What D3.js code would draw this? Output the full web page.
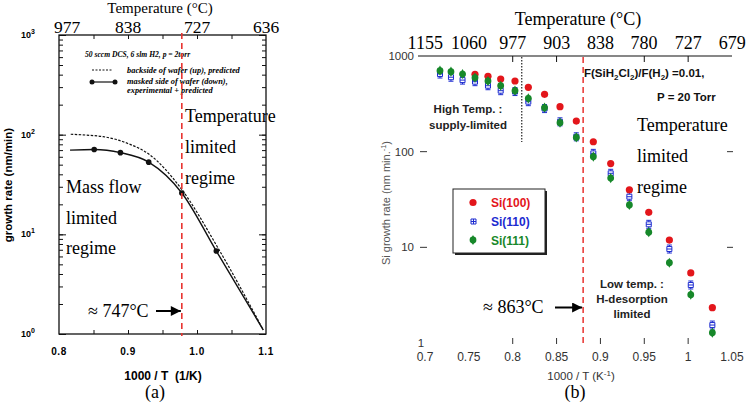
<!DOCTYPE html>
<html>
<head>
<meta charset="utf-8">
<script src="https://cdn.jsdelivr.net/npm/d3@7/dist/d3.min.js"></script>
<style>
body { margin: 0; background: #fff; }
</style>
</head>
<body>
<svg id="canvas"></svg>
<script>
var w = 747;
var h = 404;
var serif = '"Liberation Serif", "Times New Roman", serif'
var sans = '"Liberation Sans", Arial, sans-serif'

// ---- panel (a) data ----
var tempTicksA = [977, 838, 727, 636]
var invTLabelsA = [0.8, 0.9, 1.0, 1.1]
var decadesA = [0, 1, 2, 3]
var solidInvT = [0.816, 0.851, 0.889, 0.930, 0.978, 1.028, 1.096]
var solidRate = [70, 71, 66, 53, 26, 6.8, 1.1]
var markInvT = [0.851, 0.889, 0.930, 0.978, 1.028]
var markRate = [71, 66, 53, 26, 6.8]
var dashInvT = [0.817, 0.840, 0.864, 0.899, 0.932, 0.975, 1.033, 1.096]
var dashRate = [101, 99, 95.5, 82, 62.5, 30, 6.8, 1.1]
var transitionA = 0.978

// ---- panel (b) data ----
var tempTicksB = [1155, 1060, 977, 903, 838, 780, 727, 679]
var invTLabelsB = [0.7, 0.75, 0.8, 0.85, 0.9, 0.95, 1, 1.05]
var rateLabelsB = [1000, 100, 10, 1]
var invT = [0.7171, 0.7296, 0.7428, 0.757, 0.7718, 0.7863, 0.8026, 0.8178, 0.8363,
            0.8539, 0.8725, 0.8919, 0.9117, 0.933, 0.9551, 0.9786, 1.003, 1.0276]
var si100 = [null, null, null, 644, 613, 575, 548, 471, 398, 295, 209, 127, 75, 40, 23.2, 11.9, 5.4, 2.34]
var si110 = [648, 600, 560, 539, 489, 434, 425, 333, 282, 205, 143, 96, 59.4, 33.8, 17.4, 9.6, 4.04, 1.54]
var si111 = [702, 685, 648, 593, 548, 489, 434, 361, 288, 201, 141, 88.6, 53, 27.7, 14.4, 6.9, 3.2, 1.28]
var seriesNames = ['Si(100)', 'Si(110)', 'Si(111)']
var seriesColours = ['#e3161b', '#1c2bd0', '#17882a']
var transitionB = 1000 / (863 + 273)
var supplyLimitB = 0.8103

var xA = d3.scaleLinear().domain([0.8, 1.1]).range([59, 266])
var yA = d3.scaleLog().domain([1, 1000]).range([334, 35])
var xB = d3.scaleLinear().domain([0.7, 1.05]).range([425, 732])
var yB = d3.scaleLog().domain([1, 1000]).range([343, 56])

var svg = d3.select('#canvas')
  .attr('width', w)
  .attr('height', h)
  .attr('viewBox', [0, 0, w, h])
  .style('font-family', sans)

var defs = svg.append('defs')
defs.append('marker')
  .attr('id', 'arrow')
  .attr('viewBox', '0 0 10 10')
  .attr('refX', 10).attr('refY', 5)
  .attr('markerWidth', 13).attr('markerHeight', 10)
  .attr('markerUnits', 'userSpaceOnUse')
  .attr('orient', 'auto')
  .append('path').attr('d', 'M0,0L10,5L0,10Z').attr('fill', '#000')

function zip(a, b){
  return a.map((d, i) => [d, b[i]]).filter(d => d[1] != null)
}

function serifText(g, x, y, t, size){
  return g.append('text').attr('x', x).attr('y', y)
    .style('font-family', serif).style('font-size', (size || 18) + 'px')
    .text(t)
}

// green markers look like a round blob with small points
function greenMark(g, data){
  g.selectAll('.gc' + data.length).data(data).enter().append('circle')
    .attr('cx', d => xB(d[0])).attr('cy', d => yB(d[1])).attr('r', 3.4)
    .attr('fill', seriesColours[2])
  g.selectAll('.gd' + data.length).data(data).enter().append('path')
    .attr('transform', d => 'translate(' + xB(d[0]) + ',' + yB(d[1]) + ')')
    .attr('d', d3.symbol().type(d3.symbolDiamond).size(30))
    .attr('fill', seriesColours[2])
}

function drawPanelA(){
  var g = svg.append('g')
  // log ticks on left and right (inside)
  var minor = yA.ticks()
  g.append('g').attr('transform', 'translate(59,0)')
    .call(d3.axisLeft(yA).tickValues(minor).tickSize(-4).tickFormat(''))
  g.append('g').attr('transform', 'translate(266,0)')
    .call(d3.axisRight(yA).tickValues(minor).tickSize(-4).tickFormat(''))
  g.append('g').attr('transform', 'translate(59,0)')
    .call(d3.axisLeft(yA).tickValues([1, 10, 100, 1000]).tickSize(-7).tickFormat(''))
  g.append('g').attr('transform', 'translate(266,0)')
    .call(d3.axisRight(yA).tickValues([1, 10, 100, 1000]).tickSize(-7).tickFormat(''))
  g.append('g').attr('transform', 'translate(0,334)')
    .call(d3.axisBottom(xA).tickValues([0.85, 0.9, 0.95, 1.0, 1.05]).tickSize(-4).tickFormat(''))
  g.append('g').attr('transform', 'translate(0,35)')
    .call(d3.axisTop(xA).tickValues([0.85, 0.9, 0.95, 1.0, 1.05]).tickSize(-4).tickFormat(''))
  g.selectAll('.domain').remove()
  g.selectAll('.tick line').attr('stroke', '#111')
  g.append('rect').attr('x', 59).attr('y', 35).attr('width', 207).attr('height', 299)
    .attr('fill', 'none').attr('stroke', '#111').attr('stroke-width', 1.3)

  // y tick labels 10^n
  decadesA.forEach(function(p){
    var t = g.append('text').attr('x', 35).attr('y', yA(Math.pow(10, p)) + 3)
      .attr('text-anchor', 'end').style('font-weight', 'bold').style('font-size', '9px')
    t.append('tspan').text('10')
    t.append('tspan').attr('dy', -4).style('font-size', '7px').text(p)
  })
  // x tick labels
  g.selectAll('.xlab').data(invTLabelsA).enter().append('text')
    .attr('x', d => xA(d)).attr('y', 355)
    .attr('text-anchor', 'middle').style('font-weight', 'bold').style('font-size', '10px')
    .style('letter-spacing', '0.5px')
    .text(d => d.toFixed(1))
  g.append('text').attr('x', 163).attr('y', 380).attr('text-anchor', 'middle')
    .style('font-weight', 'bold').style('font-size', '12px')
    .attr('xml:space', 'preserve').text('1000 / T  (1/K)')
  g.append('text').attr('transform', 'translate(12,185) rotate(-90)').attr('text-anchor', 'middle')
    .style('font-weight', 'bold').style('font-size', '11.5px').text('growth rate (nm/min)')

  // temperature axis labels
  g.selectAll('.tlab').data(tempTicksA).enter().append('text')
    .attr('x', (d, i) => xA(1000 / (d + 273)) + (i == 0 ? 8 : 0)).attr('y', 33)
    .attr('text-anchor', 'middle').style('font-family', serif).style('font-size', '17.5px')
    .text(d => d)
  serifText(g, 160, 13, 'Temperature (°C)', 15).attr('text-anchor', 'middle')

  // legend
  g.append('text').attr('x', 85).attr('y', 56.5)
    .style('font-family', serif).style('font-style', 'italic').style('font-weight', 'bold')
    .style('font-size', '7.6px').text('50 sccm DCS, 6 slm H2, p = 2torr')
  g.append('line').attr('x1', 92).attr('x2', 113).attr('y1', 70).attr('y2', 70)
    .attr('stroke', '#111').attr('stroke-dasharray', '2,1.5')
  g.append('line').attr('x1', 92).attr('x2', 115).attr('y1', 82).attr('y2', 82)
    .attr('stroke', '#111').attr('stroke-width', 1.2)
  g.selectAll('.legdot').data([92, 115]).enter().append('circle')
    .attr('cx', d => d).attr('cy', 82).attr('r', 2.5).attr('fill', '#111')
  var legLines = [['backside of wafer (up), predicted', 72.5],
                  ['masked side of wafer (down),', 83.5],
                  ['experimental + predicted', 92.5]]
  legLines.forEach(function(l){
    g.append('text').attr('x', 127).attr('y', l[1])
      .style('font-family', serif).style('font-style', 'italic').style('font-weight', 'bold')
      .style('font-size', '8.4px').text(l[0])
  })

  // curves
  var line = d3.line().x(d => xA(d[0])).y(d => yA(d[1])).curve(d3.curveMonotoneX)
  g.append('path').attr('d', line(zip(dashInvT, dashRate)))
    .attr('fill', 'none').attr('stroke', '#111').attr('stroke-width', 1.2)
    .attr('stroke-dasharray', '2.5,1.5')
  g.append('path').attr('d', line(zip(solidInvT, solidRate)))
    .attr('fill', 'none').attr('stroke', '#111').attr('stroke-width', 1.4)
  g.selectAll('.mark').data(zip(markInvT, markRate)).enter().append('circle')
    .attr('cx', d => xA(d[0])).attr('cy', d => yA(d[1])).attr('r', 2.8).attr('fill', '#111')

  // transition line + annotations
  g.append('line').attr('x1', xA(transitionA)).attr('x2', xA(transitionA))
    .attr('y1', 33).attr('y2', 336)
    .attr('stroke', '#e8322f').attr('stroke-width', 1.6).attr('stroke-dasharray', '6,4')
  serifText(g, 185, 122, 'Temperature')
  serifText(g, 185, 153, 'limited')
  serifText(g, 185, 184, 'regime')
  serifText(g, 66, 193, 'Mass flow')
  serifText(g, 66, 224, 'limited')
  serifText(g, 66, 254, 'regime')
  serifText(g, 88, 317, '≈ 747°C')
  g.append('line').attr('x1', 156).attr('x2', xA(transitionA) - 1).attr('y1', 311).attr('y2', 311)
    .attr('stroke', '#000').attr('stroke-width', 2).attr('marker-end', 'url(#arrow)')
  serifText(g, 155, 398, '(a)').attr('text-anchor', 'middle')
}

function drawPanelB(){
  var g = svg.append('g')
  // top axis line + temperature ticks
  g.append('line').attr('x1', 418).attr('x2', 732).attr('y1', 56).attr('y2', 56)
    .attr('stroke', '#111').attr('stroke-width', 1.2)
  g.selectAll('.ttick').data([0.8, 0.85, 0.95, 1.0]).enter().append('line')
    .attr('x1', d => xB(d)).attr('x2', d => xB(d)).attr('y1', 56).attr('y2', 62)
    .attr('stroke', '#111')
  g.selectAll('.tlab').data(tempTicksB).enter().append('text')
    .attr('x', d => xB(1000 / (d + 273))).attr('y', 49)
    .attr('text-anchor', 'middle').style('font-family', serif).style('font-size', '18px')
    .text(d => d)
  serifText(g, 578, 25, 'Temperature (°C)').attr('text-anchor', 'middle')

  // bottom ticks
  g.selectAll('.btick').data([0.8, 0.85, 0.9, 0.95, 1.0]).enter().append('line')
    .attr('x1', d => xB(d)).attr('x2', d => xB(d)).attr('y1', 338).attr('y2', 344)
    .attr('stroke', '#333')
  g.selectAll('.blab').data(invTLabelsB).enter().append('text')
    .attr('x', d => xB(d)).attr('y', 361).attr('text-anchor', 'middle')
    .style('font-size', '12px').attr('fill', '#333').text(d => d)
  var xt = g.append('text').attr('x', 581).attr('y', 380).attr('text-anchor', 'middle')
    .style('font-size', '11.5px').attr('fill', '#333')
  xt.append('tspan').text('1000 / T (K')
  xt.append('tspan').attr('dy', -4).style('font-size', '8px').text('-1')
  xt.append('tspan').attr('dy', 4).text(')')

  // y ticks
  g.selectAll('.ltick').data([100, 10]).enter().append('line')
    .attr('x1', 420).attr('x2', 427).attr('y1', d => yB(d)).attr('y2', d => yB(d))
    .attr('stroke', '#333')
  g.selectAll('.rtick').data([100, 10]).enter().append('line')
    .attr('x1', 727).attr('x2', 733).attr('y1', d => yB(d)).attr('y2', d => yB(d))
    .attr('stroke', '#333')
  g.selectAll('.ylab').data(rateLabelsB).enter().append('text')
    .attr('x', d => d == 1 ? 421 : 414).attr('y', d => yB(d) + 4)
    .attr('text-anchor', d => d == 1 ? 'middle' : 'end')
    .style('font-size', '11.5px').attr('fill', '#333').text(d => d)
  var yt = g.append('text').attr('transform', 'translate(390,203) rotate(-90)')
    .attr('text-anchor', 'middle').style('font-size', '11px').attr('fill', '#555')
  yt.append('tspan').text('Si growth rate (nm min.')
  yt.append('tspan').attr('dy', -4).style('font-size', '7.5px').text('-1')
  yt.append('tspan').attr('dy', 4).text(')')

  // reference lines
  g.append('line').attr('x1', xB(supplyLimitB)).attr('x2', xB(supplyLimitB))
    .attr('y1', 57).attr('y2', 142)
    .attr('stroke', '#222').attr('stroke-width', 1.2).attr('stroke-dasharray', '1.5,1.5')
  g.append('line').attr('x1', xB(transitionB)).attr('x2', xB(transitionB))
    .attr('y1', 57).attr('y2', 346)
    .attr('stroke', '#e8322f').attr('stroke-width', 1.5).attr('stroke-dasharray', '6,4')

  // data: Si(110) first, then Si(100), then Si(111) on top
  var b = zip(invT, si110)
  g.selectAll('.eb').data(b).enter().append('path')
    .attr('d', d => {
      var x = xB(d[0]), y = yB(d[1])
      return 'M' + (x - 2.5) + ',' + (y - 4) + 'H' + (x + 2.5) +
             'M' + x + ',' + (y - 4) + 'V' + (y + 4) +
             'M' + (x - 2.5) + ',' + (y + 4) + 'H' + (x + 2.5)
    })
    .attr('stroke', seriesColours[1]).attr('stroke-width', 1).attr('fill', 'none')
  g.selectAll('.sq').data(b).enter().append('path')
    .attr('d', d => {
      var x = xB(d[0]), y = yB(d[1])
      return 'M' + (x - 2.5) + ',' + (y - 2.5) + 'h5v5h-5z' +
             'M' + (x - 2.5) + ',' + y + 'h5'
    })
    .attr('stroke', seriesColours[1]).attr('stroke-width', 1).attr('fill', '#fff')
  g.selectAll('.r').data(zip(invT, si100)).enter().append('circle')
    .attr('cx', d => xB(d[0])).attr('cy', d => yB(d[1])).attr('r', 3.6)
    .attr('fill', seriesColours[0])
  greenMark(g, zip(invT, si111))

  // text annotations
  var f = g.append('text').attr('x', 584).attr('y', 77).style('font-weight', 'bold')
    .style('font-size', '11.5px').attr('fill', '#111')
  f.append('tspan').text('F(SiH')
  f.append('tspan').attr('dy', 3).style('font-size', '8px').text('2')
  f.append('tspan').attr('dy', -3).text('Cl')
  f.append('tspan').attr('dy', 3).style('font-size', '8px').text('2')
  f.append('tspan').attr('dy', -3).text(')/F(H')
  f.append('tspan').attr('dy', 3).style('font-size', '8px').text('2')
  f.append('tspan').attr('dy', -3).text(') =0.01,')
  g.append('text').attr('x', 657).attr('y', 101).style('font-weight', 'bold')
    .style('font-size', '11.5px').attr('fill', '#111').text('P = 20 Torr')
  var hiT = [['High Temp. :', 113], ['supply-limited', 129]]
  hiT.forEach(function(l){
    g.append('text').attr('x', 468).attr('y', l[1]).attr('text-anchor', 'middle')
      .style('font-weight', 'bold').style('font-size', '11.5px').attr('fill', '#222').text(l[0])
  })
  var loT = [['Low temp. :', 288], ['H-desorption', 303], ['limited', 318]]
  loT.forEach(function(l){
    g.append('text').attr('x', 632).attr('y', l[1]).attr('text-anchor', 'middle')
      .style('font-weight', 'bold').style('font-size', '11.5px').attr('fill', '#222').text(l[0])
  })
  serifText(g, 637, 131, 'Temperature')
  serifText(g, 637, 162, 'limited')
  serifText(g, 637, 193, 'regime')
  serifText(g, 483, 313, '≈ 863°C')
  g.append('line').attr('x1', 555).attr('x2', xB(transitionB) - 1).attr('y1', 307.5).attr('y2', 307.5)
    .attr('stroke', '#000').attr('stroke-width', 2).attr('marker-end', 'url(#arrow)')
  serifText(g, 575, 398, '(b)').attr('text-anchor', 'middle')

  // legend box with shadow
  g.append('rect').attr('x', 455).attr('y', 191).attr('width', 92).attr('height', 64).attr('fill', '#222')
  g.append('rect').attr('x', 453).attr('y', 189).attr('width', 92).attr('height', 64)
    .attr('fill', '#fff').attr('stroke', '#222').attr('stroke-width', 1)
  var ly = [202.5, 221.5, 240]
  g.append('circle').attr('cx', 473).attr('cy', ly[0]).attr('r', 3.6).attr('fill', seriesColours[0])
  g.append('path').attr('d', 'M' + 471 + ',' + (ly[1] - 2.5) + 'h5v5h-5zM471,' + ly[1] + 'h5M473.5,' + (ly[1] - 2.5) + 'v5')
    .attr('stroke', seriesColours[1]).attr('fill', '#fff')
  g.append('circle').attr('cx', 473).attr('cy', ly[2]).attr('r', 3.4).attr('fill', seriesColours[2])
  g.append('path').attr('transform', 'translate(473,' + ly[2] + ')')
    .attr('d', d3.symbol().type(d3.symbolDiamond).size(30)).attr('fill', seriesColours[2])
  seriesNames.forEach(function(n, i){
    g.append('text').attr('x', 491).attr('y', ly[i] + 4.5).style('font-weight', 'bold')
      .style('font-size', '12px').attr('fill', seriesColours[i]).text(n)
  })
}

drawPanelA()
drawPanelB()
</script>
</body>
</html>
